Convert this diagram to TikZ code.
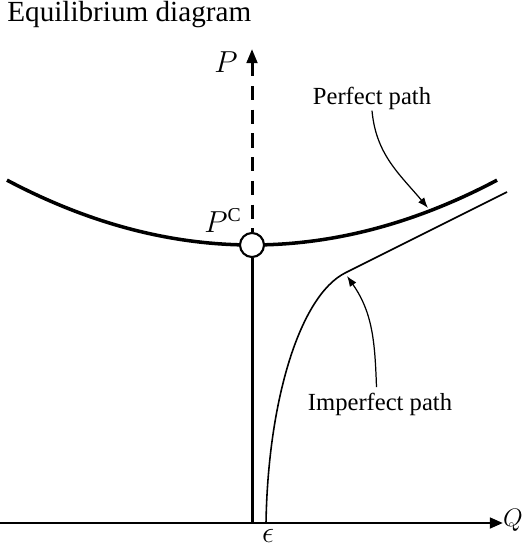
\documentclass[tikz,border=0pt]{standalone}
\usepackage{fontspec}
\setmainfont{Liberation Serif}
\usetikzlibrary{arrows.meta}

\begin{document}
\begin{tikzpicture}[
    x=0.02cm, y=-0.02cm,
    axis/.style={line width=1.7pt},
    axisarrow/.style={-{Triangle[length=7.5pt,width=6pt]}, line width=1.7pt},
    perfect/.style={line width=2pt},
    imperfect/.style={line width=0.9pt},
    note/.style={-{Latex[length=6pt,width=4.5pt]}, line width=0.7pt},
    lbl/.style={font=\fontsize{14}{16}\selectfont, inner sep=0pt},
    sym/.style={font=\fontsize{16}{19}\selectfont, inner sep=0pt}
  ]
  \useasboundingbox (0,0) rectangle (525,546);

  \node[anchor=base west, inner sep=0pt, font=\fontsize{16.6}{19}\selectfont] (title) at (7,22) {Equilibrium diagram};

  % axes
  \coordinate (orig) at (0,523);
  \coordinate (qtip) at (503,523);
  \coordinate (ptip) at (252,49);
  \coordinate (foot) at (252,523);
  \node[sym, anchor=east, font=\fontsize{15}{18}\selectfont] (qlabel) at (523,520) {$Q$};
  \node[sym, anchor=east, font=\fontsize{17}{20}\selectfont] (plabel) at (238,62) {$P$};
  \draw[axisarrow] (orig) -- (qtip);

  % perfect path
  \draw[perfect] plot[domain=7:497, samples=60, smooth] (\x, {245-10.8*((\x-252)/100)^2});
  \node[circle, draw, fill=white, line width=1.2pt, minimum size=0.48cm, inner sep=0pt] (pc) at (252,245) {};
  \draw[axis] (foot) -- (pc.south);
  \draw[axis, {Triangle[length=8pt,width=6pt]}-, dash pattern=on 8pt off 5.5pt] (ptip) -- (pc.north);
  \node[sym, anchor=base east] (pclabel) at (242,233) {$P^{\mathrm{C}}$};

  % imperfect path
  \coordinate (imstart) at (266,523);
  \coordinate (imend) at (507,192);
  \draw[imperfect] (imstart) .. controls (268,400) and (300,296) .. (345,273) -- (imend);
  \node[anchor=base, inner sep=0pt, font=\fontsize{16}{19}\selectfont] (eps) at (268,542) {$\epsilon$};

  % labels
  \node[lbl, anchor=base] (perf) at (372,105) {Perfect path};
  \coordinate (perfend) at (428,208);
  \draw[note] (perf.south) to[out=-85, in=130] (perfend);
  \node[lbl, anchor=base] (imp) at (380,410) {Imperfect path};
  \coordinate (impend) at (347,276);
  \draw[note] ([xshift=-2pt, yshift=3pt]imp.north) to[out=92, in=-55] (impend);
\end{tikzpicture}
\end{document}
